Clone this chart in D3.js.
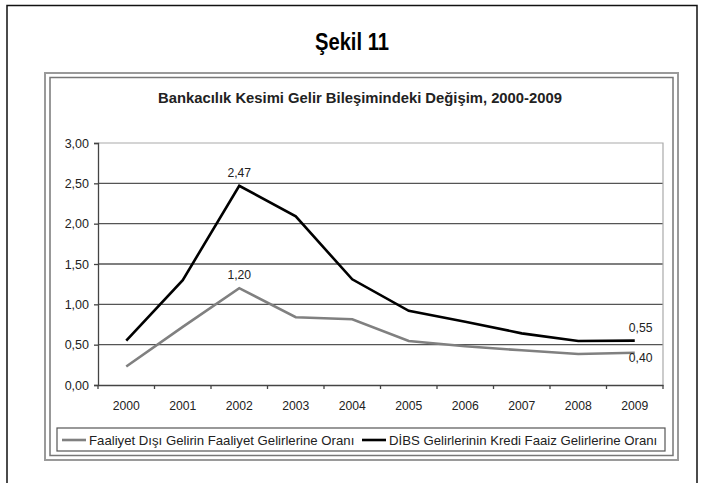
<!DOCTYPE html>
<html>
<head>
<meta charset="utf-8">
<script src="https://cdn.jsdelivr.net/npm/d3@7"></script>
<style>
  body { margin: 0; background: #fff; }
  svg { font-family: "Liberation Sans", Arial, sans-serif; }
</style>
</head>
<body>
<svg id="chart" width="703" height="483"></svg>
<script>
var years = ["2000","2001","2002","2003","2004","2005","2006","2007","2008","2009"];
var faaliyetDisi = [0.23, 0.72, 1.20, 0.84, 0.815, 0.545, 0.48, 0.43, 0.385, 0.40];
var dibs = [0.55, 1.30, 2.47, 2.09, 1.31, 0.92, 0.785, 0.64, 0.545, 0.55];
var yTicks = [0, 0.5, 1, 1.5, 2, 2.5, 3];
var seriesNames = ["Faaliyet Dışı Gelirin Faaliyet Gelirlerine Oranı", "DİBS Gelirlerinin Kredi Faaiz Gelirlerine Oranı"];

var svg = d3.select("#chart");
var fmt = function(d) { return d3.format(".2f")(d).replace(".", ","); };

// page frame
svg.append("path")
    .attr("d", "M7,490 V5.5 H697 V490")
    .attr("fill", "none")
    .attr("stroke", "#111")
    .attr("stroke-width", 1.5);

// condensed look for the figure title
svg.append("text")
    .attr("transform", "translate(352,50) scale(0.86,1)")
    .attr("text-anchor", "middle")
    .attr("font-size", 23.5)
    .attr("font-weight", "bold")
    .text("Şekil 11");

// chart double frame
svg.append("rect").attr("x", 45).attr("y", 73).attr("width", 633).attr("height", 387)
    .attr("fill", "none").attr("stroke", "#9a9a9a").attr("stroke-width", 2);
svg.append("rect").attr("x", 50).attr("y", 77.5).attr("width", 623).attr("height", 378)
    .attr("fill", "none").attr("stroke", "#777").attr("stroke-width", 1.5);

svg.append("text")
    .attr("x", 360)
    .attr("y", 103)
    .attr("text-anchor", "middle")
    .attr("font-size", 14.8)
    .attr("font-weight", "bold")
    .attr("fill", "#222")
    .text("Bankacılık Kesimi Gelir Bileşimindeki Değişim, 2000-2009");

var plotLeft = 98, plotRight = 663, plotTop = 143, plotBottom = 385;

var x = d3.scaleBand().domain(years).range([plotLeft, plotRight]);
var y = d3.scaleLinear().domain([0, 3]).range([plotBottom, plotTop]);

// grid
svg.append("g")
  .selectAll("line")
  .data(yTicks.filter(function(d) { return d > 0 && d < 3; }))
  .enter().append("line")
    .attr("x1", plotLeft).attr("x2", plotRight)
    .attr("y1", function(d) { return y(d); })
    .attr("y2", function(d) { return y(d); })
    .attr("stroke", "#555")
    .attr("stroke-width", 1.3);

// plot border top/right
svg.append("path")
    .attr("d", "M" + plotLeft + "," + plotTop + " H" + plotRight + " V" + plotBottom)
    .attr("fill", "none")
    .attr("stroke", "#aaa")
    .attr("stroke-width", 1.2);

// y axis
var yAxis = svg.append("g")
    .attr("transform", "translate(" + plotLeft + ",0)")
    .call(d3.axisLeft(y).tickValues(yTicks).tickFormat(fmt).tickSize(4).tickPadding(5));
yAxis.selectAll("text").attr("font-size", 12.5).attr("fill", "#222").attr("font-family", "'Liberation Sans', Arial, sans-serif");
yAxis.selectAll("line, path").attr("stroke", "#444").attr("stroke-width", 1.3);

// x axis with ticks at category boundaries
var xAxis = svg.append("g")
    .attr("transform", "translate(0," + plotBottom + ")")
    .call(d3.axisBottom(x).tickSize(0).tickPadding(16));
xAxis.select(".domain").attr("stroke", "#444").attr("stroke-width", 1.3);
xAxis.selectAll("text").attr("font-size", 12.2).attr("fill", "#222").attr("font-family", "'Liberation Sans', Arial, sans-serif");
xAxis.selectAll(".bnd")
    .data(years.concat(["end"]))
    .enter().append("line")
    .attr("class", "bnd")
    .attr("x1", function(d, i) { return plotLeft + i * x.bandwidth(); })
    .attr("x2", function(d, i) { return plotLeft + i * x.bandwidth(); })
    .attr("y1", 0).attr("y2", 4)
    .attr("stroke", "#444")
    .attr("stroke-width", 1.3);

var line = d3.line()
    .x(function(d, i) { return x(years[i]) + x.bandwidth() / 2; })
    .y(function(d) { return y(d); });

svg.append("path").datum(faaliyetDisi)
    .attr("d", line).attr("fill", "none")
    .attr("stroke", "#808080").attr("stroke-width", 2.6);
svg.append("path").datum(dibs)
    .attr("d", line).attr("fill", "none")
    .attr("stroke", "#000").attr("stroke-width", 2.6);

// data labels
function cx(i) { return x(years[i]) + x.bandwidth() / 2; }
var lbl = svg.append("g").attr("font-size", 12.2).attr("fill", "#222");
lbl.append("text").attr("x", cx(2)).attr("y", y(dibs[2]) - 9).attr("text-anchor", "middle").text(fmt(dibs[2]));
lbl.append("text").attr("x", cx(2)).attr("y", y(faaliyetDisi[2]) - 9).attr("text-anchor", "middle").text(fmt(faaliyetDisi[2]));
lbl.append("text").attr("x", cx(9) - 6).attr("y", y(dibs[9]) - 8.5).text(fmt(dibs[9]));
lbl.append("text").attr("x", cx(9) - 6).attr("y", y(faaliyetDisi[9]) + 9.5).text(fmt(faaliyetDisi[9]));

// legend
var leg = svg.append("g");
leg.append("rect").attr("x", 57).attr("y", 428).attr("width", 608).attr("height", 23)
    .attr("fill", "none").attr("stroke", "#555").attr("stroke-width", 1.2);
var legColors = ["#808080", "#000"];
var legX = [62, 362];
seriesNames.forEach(function(name, i) {
  leg.append("line").attr("x1", legX[i]).attr("x2", legX[i] + 24)
      .attr("y1", 440).attr("y2", 440)
      .attr("stroke", legColors[i]).attr("stroke-width", 2.6);
  leg.append("text").attr("x", legX[i] + 27).attr("y", 444.5)
      .attr("font-size", 13.2).attr("fill", "#222").text(name);
});
</script>
</body>
</html>
